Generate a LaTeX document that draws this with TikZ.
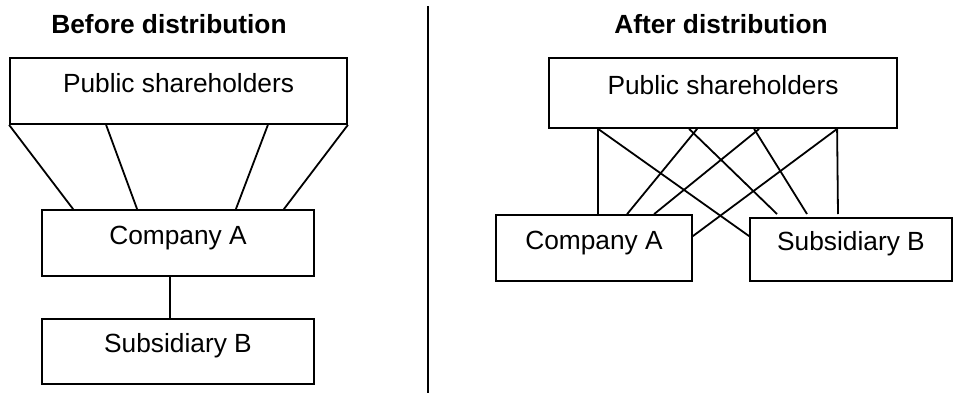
\documentclass[tikz,border=0pt]{standalone}
\usepackage{fontspec}
\setmainfont{Liberation Sans}
\usetikzlibrary{arrows}

\begin{document}
\begin{tikzpicture}[x=1pt,y=-1pt,line width=1.8pt,font=\fontsize{26.3}{30}\selectfont]
  \tikzstyle{BoxStyle}=[draw,rectangle,inner sep=0pt,text height=0.73em,text depth=0.45em]
  \useasboundingbox (0,0) rectangle (967,394);

  \node [font=\fontsize{26.3}{30}\selectfont\bfseries] (before) at (169,24) {Before distribution};
  \node [font=\fontsize{26.3}{30}\selectfont\bfseries] (after) at (721,24) {After distribution};

  \node [BoxStyle,minimum width=337pt,minimum height=66pt] (lpub) at (178.5,91) {Public shareholders};
  \node [BoxStyle,minimum width=272pt,minimum height=66pt] (lca) at (178,243) {Company A};
  \node [BoxStyle,minimum width=272pt,minimum height=65pt] (lsb) at (178,351.5) {Subsidiary B};

  \node [BoxStyle,minimum width=348pt,minimum height=70pt] (rpub) at (723,93) {Public shareholders};
  \node [BoxStyle,minimum width=196pt,minimum height=66pt] (rca) at (594,248) {Company A};
  \node [BoxStyle,minimum width=202pt,minimum height=63pt] (rsb) at (851,249.5) {Subsidiary B};

  \coordinate (f1) at (777,214);
  \coordinate (f2) at (807,214);
  \coordinate (f3) at (838,214);

  \draw (lpub.south west) -- ([xshift=32pt]lca.north west);
  \draw ([xshift=97pt]lpub.south west) -- ([xshift=96pt]lca.north west);
  \draw ([xshift=-80pt]lpub.south east) -- ([xshift=-79pt]lca.north east);
  \draw (lpub.south east) -- ([xshift=-31pt]lca.north east);
  \draw ([xshift=-8pt]lca.south) -- ([xshift=-8pt]lsb.north);

  \draw ([xshift=50pt]rpub.south west) -- ([xshift=103pt]rca.north west);
  \draw ([xshift=50pt]rpub.south west) -- ([yshift=-19pt]rsb.north west);
  \draw ([xshift=141pt]rpub.south west) -- (f1);
  \draw ([xshift=149pt]rpub.south west) -- ([xshift=132pt]rca.north west);
  \draw ([xshift=211pt]rpub.south west) -- ([xshift=159pt]rca.north west);
  \draw ([xshift=206pt]rpub.south west) -- (f2);
  \draw ([xshift=289pt]rpub.south west) -- ([yshift=-22pt]rca.north east);
  \draw ([xshift=289pt]rpub.south west) -- (f3);

  \draw (428,6) -- (428,393);
\end{tikzpicture}
\end{document}
